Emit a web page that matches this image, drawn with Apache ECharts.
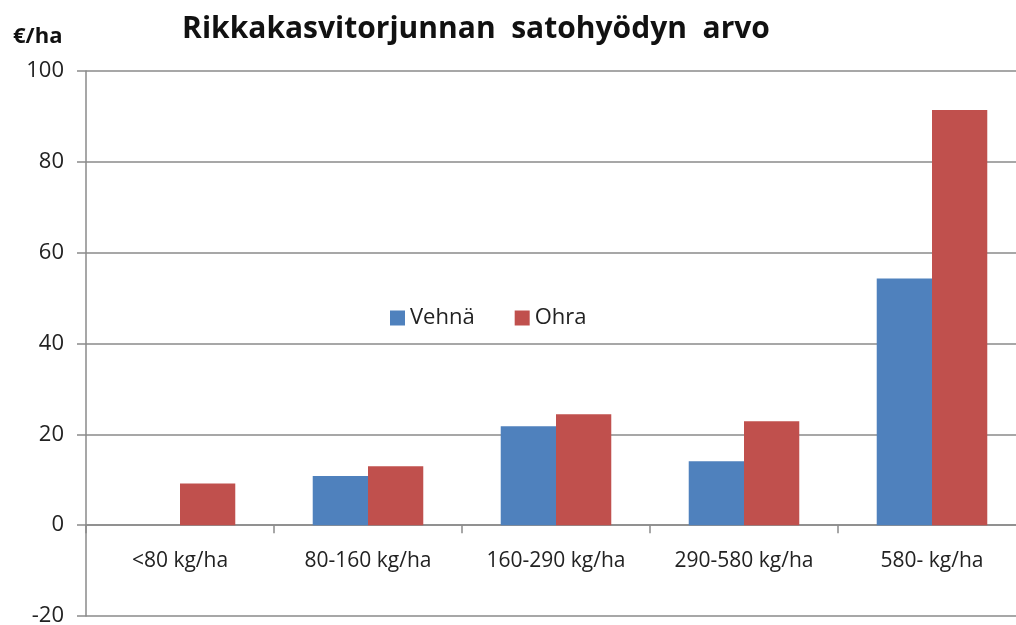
<!DOCTYPE html>
<html>
<head>
<meta charset="utf-8">
<script src="https://cdn.jsdelivr.net/npm/echarts@6/dist/echarts.min.js"></script>
<style>
  html, body { margin: 0; padding: 0; background: #fff; }
  #chart { width: 1016px; height: 625px; }
</style>
</head>
<body>
<div id="chart"></div>
<script>
// Weed control yield benefit (€/ha) per weed biomass class, wheat vs barley
const categories = ["<80 kg/ha", "80-160 kg/ha", "160-290 kg/ha", "290-580 kg/ha", "580- kg/ha"];
const vehna = [0, 10.8, 21.8, 14.1, 54.3];
const ohra = [9.2, 13.0, 24.4, 22.9, 91.4];
const yTicks = { min: -20, max: 100, step: 20 };

const FONT = "Open Sans";
const chart = echarts.init(document.getElementById("chart"));

chart.setOption({
  animation: false,
  backgroundColor: "#fff",
  title: [
    { text: "Rikkakasvitorjunnan  satohyödyn  arvo", left: 471, top: 9, textAlign: "center",
      textStyle: { fontFamily: FONT, fontSize: 30, fontWeight: "bold", color: "#111" } },
    { text: "€/ha", left: 8, top: 21,
      textStyle: { fontFamily: FONT, fontSize: 22, fontWeight: "bold", color: "#111" } },
  ],
  legend: {
    left: 385, top: 302, itemWidth: 15, itemHeight: 15, itemGap: 40,
    icon: "rect",
    textStyle: { fontFamily: FONT, fontSize: 22, color: "#222" },
    data: ["Vehnä", "Ohra"],
  },
  grid: { left: 86, right: -10, top: 71, bottom: 9, outerBoundsMode: "none" },
  xAxis: {
    type: "category", data: categories,
    axisLine: { onZero: true, lineStyle: { color: "#8a8a8a", width: 1.5 } },
    axisTick: { show: true, length: 8, lineStyle: { color: "#8a8a8a", width: 1.5 } },
    // labels sit just under the zero line (the axis line itself is moved onto 0)
    axisLabel: { fontFamily: FONT, fontSize: 21, color: "#222", margin: -65 },
  },
  yAxis: {
    type: "value", min: yTicks.min, max: yTicks.max, interval: yTicks.step,
    axisLine: { show: true, lineStyle: { color: "#8a8a8a", width: 1.5 } },
    axisTick: { show: true, length: 9, lineStyle: { color: "#8a8a8a", width: 1.5 } },
    axisLabel: { fontFamily: FONT, fontSize: 22, color: "#222", margin: 22 },
    splitLine: { lineStyle: { color: "#8a8a8a", width: 1.5 } },
  },
  series: [
    { name: "Vehnä", type: "bar", data: vehna, barWidth: "29.4%", barGap: "0%",
      itemStyle: { color: "#4F81BD" } },
    { name: "Ohra", type: "bar", data: ohra, barWidth: "29.4%",
      itemStyle: { color: "#C0504D" } },
  ],
});
</script>
</body>
</html>
